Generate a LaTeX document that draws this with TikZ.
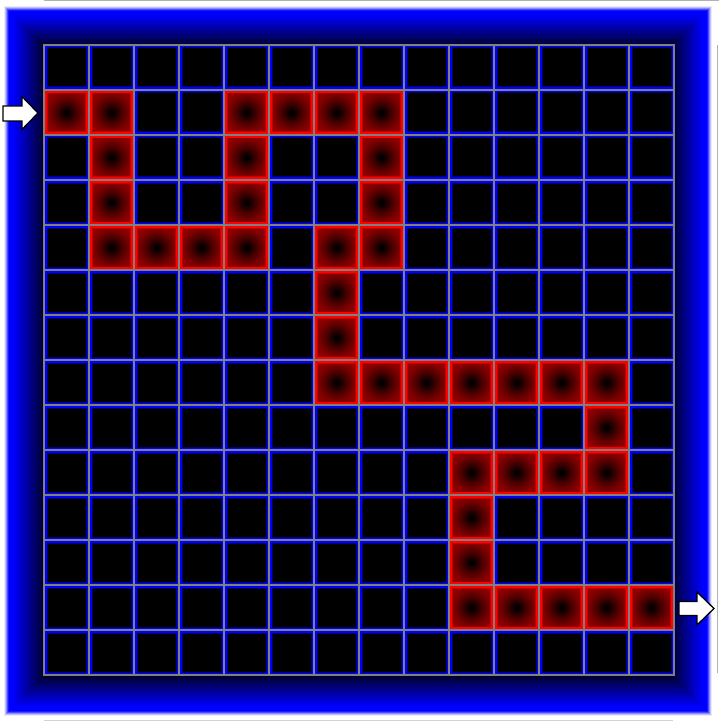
\documentclass[tikz,border=0pt]{standalone}
\pgfdeclareradialshading{redglow}{\pgfpoint{0bp}{0bp}}{color(0bp)=(black); color(2bp)=(black); color(13bp)=(red!27!black); color(25bp)=(red!50!black); color(36bp)=(red!60!black); color(50bp)=(red!60!black)}
\tikzset{
  gridline/.style={fill=gray},
  arrowshape/.style={draw=black, fill=white, line width=1.3pt, line join=miter},
  artifact/.style={draw=gray!60, line width=1pt}
}
\begin{document}
\begin{tikzpicture}[x=1pt,y=-1pt]
\useasboundingbox (0,0) rectangle (719,722);
\fill[white] (0,0) rectangle (719,722);
% thin edge lines
\draw[artifact] (44,0.6) -- (719,0.6);
\draw[artifact] (717.5,45) -- (717.5,673);
\draw[artifact, draw=gray!35] (44,720.5) -- (673,720.5);
% blue frame with gradient
\foreach \i/\p in {0/8,1/25,2/45,3/70,4/90}{
  \fill[blue!\p!white] (4+\i,6+\i) rectangle (712-\i,716-\i);
}
\foreach \i in {5,...,40}{
  \pgfmathtruncatemacro\p{\i<9 ? 100 : max(20,100-(\i-9)*2.7)}
  \fill[blue!\p!black] (4+\i,6+\i) rectangle (712-\i,716-\i);
}
% grid
\fill[gridline] (43,44) rectangle (675,676);
\foreach \r in {0,...,13}{
  \foreach \c in {0,...,13}{
    \fill[blue] (45+45*\c,46+45*\r) rectangle (88+45*\c,89+45*\r);
    \fill[blue!45!black] (46.5+45*\c,47.5+45*\r) rectangle (86.5+45*\c,87.5+45*\r);
    \fill[black] (47.5+45*\c,48.5+45*\r) rectangle (85.5+45*\c,86.5+45*\r);
  }
}
% red path cells
\foreach \c/\r in {0/1,1/1,4/1,5/1,6/1,7/1,
                   1/2,4/2,7/2,
                   1/3,4/3,7/3,
                   1/4,2/4,3/4,4/4,6/4,7/4,
                   6/5,6/6,
                   6/7,7/7,8/7,9/7,10/7,11/7,12/7,
                   12/8,
                   9/9,10/9,11/9,12/9,
                   9/10,9/11,
                   9/12,10/12,11/12,12/12,13/12}{
  \fill[red] (45+45*\c,46+45*\r) rectangle (88+45*\c,89+45*\r);
  \fill[red!78!black] (47+45*\c,48+45*\r) rectangle (86+45*\c,87+45*\r);
  \shade[shading=redglow] (48+45*\c,49+45*\r) rectangle (85+45*\c,86+45*\r);
}
% entry and exit arrows
\draw[arrowshape] (3,106) -- (22,106) -- (22,96.5) -- (38,113) -- (22,129.5) -- (22,121) -- (3,121) -- cycle;
\draw[arrowshape] (679,601.5) -- (697,601.5) -- (697,592) -- (714,608.5) -- (697,625) -- (697,615.5) -- (679,615.5) -- cycle;
\end{tikzpicture}
\end{document}
